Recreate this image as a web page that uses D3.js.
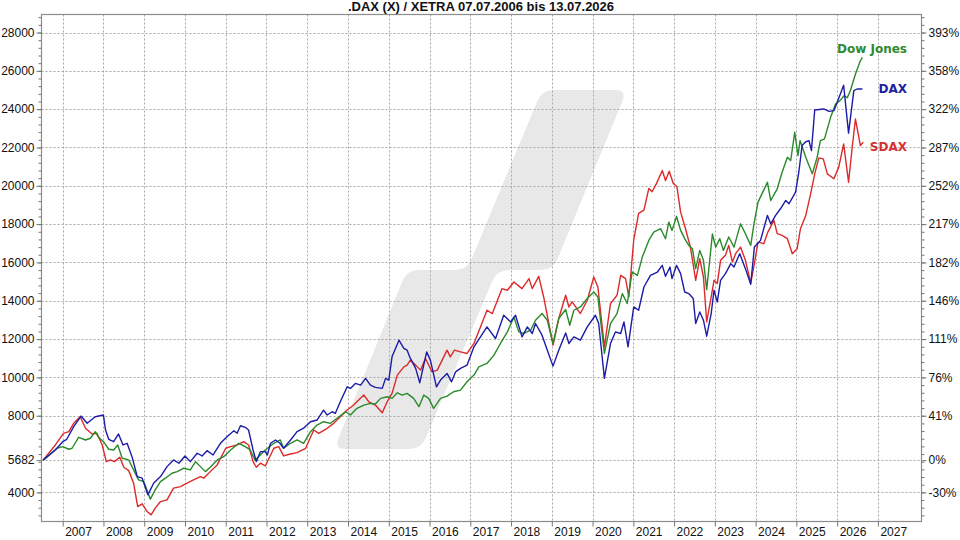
<!DOCTYPE html>
<html><head><meta charset="utf-8">
<script src="https://cdn.jsdelivr.net/npm/d3@7"></script>
<style>
html,body{margin:0;padding:0;background:#fff;}
svg{display:block;}
</style></head>
<body>
<svg id="chart" width="960" height="540"></svg>
<script>
// ---------------- DATA (decimal years / index points) ----------------
const titleText = ".DAX (X) / XETRA 07.07.2006 bis 13.07.2026";
const years = [2007,2008,2009,2010,2011,2012,2013,2014,2015,2016,2017,2018,2019,2020,2021,2022,2023,2024,2025,2026,2027];
const leftTicks = [4000,5682,8000,10000,12000,14000,16000,18000,20000,22000,24000,26000,28000];
const rightLabels = ["-30%","0%","41%","76%","111%","146%","182%","217%","252%","287%","322%","358%","393%"];
const seriesNames = ["Dow Jones","DAX","SDAX"];

const daxDates = [2006.52,2006.82,2007.00,2007.10,2007.27,2007.45,2007.60,2007.80,2008.00,2008.05,2008.13,2008.25,2008.37,2008.48,2008.58,2008.70,2008.83,2008.95,2009.09,2009.23,2009.40,2009.56,2009.72,2009.85,2010.00,2010.13,2010.30,2010.42,2010.54,2010.69,2010.87,2011.03,2011.20,2011.28,2011.36,2011.48,2011.56,2011.67,2011.75,2011.85,2011.97,2012.02,2012.10,2012.22,2012.33,2012.42,2012.59,2012.75,2012.91,
 2013.08,2013.24,2013.40,2013.49,2013.61,2013.69,2013.81,2013.98,2014.06,2014.18,2014.31,2014.43,2014.55,2014.67,2014.84,2014.92,2015.00,2015.08,2015.25,2015.37,2015.45,2015.53,2015.66,2015.76,2015.93,2016.02,2016.17,2016.27,2016.43,2016.54,2016.64,2016.76,2016.92,2017.09,2017.25,
 2017.41,2017.62,2017.82,2017.99,2018.11,2018.27,2018.40,2018.52,2018.60,2018.76,2018.89,2019.03,2019.17,2019.34,2019.42,2019.54,2019.70,2019.87,2020.07,2020.15,2020.29,2020.44,2020.56,2020.69,2020.77,2020.87,2021.01,2021.13,2021.26,2021.42,2021.59,2021.71,2021.79,2021.90,2021.95,2022.06,2022.16,2022.26,2022.36,2022.47,2022.53,2022.63,2022.72,2022.80,2022.91,2022.98,2023.06,2023.14,2023.26,2023.39,2023.47,2023.61,2023.75,2023.88,2023.97,2024.12,2024.29,2024.37,2024.49,2024.61,2024.74,2024.82,2024.98,2025.06,2025.14,2025.23,2025.31,2025.37,2025.45,2025.67,2025.80,2025.92,2026.00,2026.16,2026.28,2026.41,2026.49,2026.62];
const daxValues = [5682,6214,6646,6771,7427,7984,7604,7948,8036,7255,6771,6646,7047,6474,6562,5865,4823,4740,3870,4479,4823,5344,5693,5521,5901,5604,6042,5901,6177,5953,6562,6906,7219,7083,7479,7396,7255,6214,5604,6125,6125,5953,6562,6734,6562,6302,6734,7167,7350,
 7688,7776,8297,8036,8208,8125,8729,9510,9427,9688,9599,9948,9599,9479,9427,9948,9859,11073,11943,11510,11422,10990,10469,9719,11333,10901,9510,9859,10208,9771,10292,10469,10641,11594,12115,
 12635,12031,13245,12896,13245,12115,12635,12292,12812,12203,11422,10589,11422,12323,11771,12115,11943,12635,13245,12812,9948,11771,12375,12292,12896,11594,13677,13505,14719,15328,15500,15849,15276,15760,15156,15849,15417,14458,14375,14115,12812,13417,12984,12151,13333,14547,13938,15068,15417,15938,15760,16458,15677,14859,16802,17151,18453,18016,18453,18802,19234,19062,19667,20708,22100,22300,22359,21838,23958,24010,23885,23922,24349,25250,22750,24964,25052,25052];

const dowDates = [2006.52,2006.86,2007.00,2007.15,2007.23,2007.39,2007.56,2007.68,2007.80,2007.88,2008.00,2008.13,2008.25,2008.35,2008.46,2008.62,2008.74,2008.86,2008.99,2009.15,2009.27,2009.40,2009.52,2009.68,2009.81,2009.97,2010.13,2010.26,2010.38,2010.50,2010.62,2010.79,2010.95,2011.12,2011.32,2011.48,2011.60,2011.72,2011.85,2011.97,2012.18,2012.34,2012.42,2012.59,2012.75,2012.91,
 2013.08,2013.24,2013.40,2013.57,2013.73,2013.94,2014.06,2014.22,2014.39,2014.55,2014.67,2014.80,2014.96,2015.08,2015.21,2015.33,2015.45,2015.61,2015.74,2015.86,2015.98,2016.10,2016.27,2016.43,2016.59,2016.76,2016.92,2017.09,2017.21,
 2017.41,2017.58,2017.74,2017.91,2018.07,2018.19,2018.31,2018.48,2018.60,2018.76,2018.89,2019.03,2019.17,2019.34,2019.44,2019.54,2019.70,2019.87,2020.03,2020.13,2020.29,2020.44,2020.60,2020.73,2020.85,2020.97,2021.10,2021.22,2021.38,2021.50,2021.67,2021.79,2021.87,2021.95,2022.06,2022.16,2022.26,2022.36,2022.45,2022.53,2022.63,2022.72,2022.80,2022.94,2023.02,2023.12,2023.21,2023.34,2023.47,2023.63,2023.75,2023.88,2023.96,2024.06,2024.29,2024.37,2024.53,2024.65,2024.78,2024.86,2024.96,2025.04,2025.09,2025.23,2025.39,2025.51,2025.59,2025.69,2025.84,2025.96,2026.07,2026.17,2026.25,2026.33,2026.45,2026.57,2026.62];
const dowValues = [5682,6302,6385,6250,6302,6875,6734,6823,7167,6875,6646,6250,6214,6474,5781,5693,5172,4651,4563,3646,4130,4563,4740,5000,5083,5260,5172,5604,5344,5083,5312,5693,5865,6214,6562,6385,6214,5693,5953,6214,6562,6734,6302,6562,6734,6562,
 7167,7516,7688,7604,7865,8208,8036,8385,8557,8646,8609,8906,8990,8906,9198,9078,9167,8906,8469,9078,8906,8385,8906,9026,9250,9338,9771,10120,10552,
 10729,11161,11771,12375,13156,12375,12292,12464,12984,13333,12984,11771,13073,13542,12724,13505,13677,14115,14458,14198,11250,12812,13333,14375,13854,15500,15328,16281,17151,17583,17760,17240,18104,17672,18401,17672,17240,16891,16719,15677,16630,16110,14583,17484,16802,17240,16630,17328,16802,18016,17500,16891,18016,19146,20188,19234,19844,20708,21490,21318,22792,21578,22359,21490,20625,21490,22359,22448,23573,24271,24443,24700,24600,25000,25833,26526,26700];

const sdaxDates = [2006.52,2006.82,2007.02,2007.15,2007.27,2007.43,2007.56,2007.72,2007.84,2007.97,2008.07,2008.17,2008.27,2008.40,2008.50,2008.62,2008.74,2008.84,2008.95,2009.07,2009.17,2009.27,2009.40,2009.56,2009.72,2009.89,2010.05,2010.21,2010.38,2010.46,2010.62,2010.79,2011.00,2011.12,2011.28,2011.44,2011.56,2011.67,2011.75,2011.85,2011.97,2012.18,2012.30,2012.42,2012.59,2012.75,2012.96,
 2013.16,2013.28,2013.49,2013.65,2013.81,2013.98,2014.14,2014.26,2014.39,2014.51,2014.67,2014.84,2014.96,2015.08,2015.21,2015.37,2015.45,2015.53,2015.66,2015.78,2015.90,2016.06,2016.19,2016.31,2016.43,2016.51,2016.61,2016.76,2016.92,2017.09,2017.25,
 2017.41,2017.54,2017.78,2017.91,2018.07,2018.27,2018.44,2018.52,2018.68,2018.80,2019.03,2019.17,2019.34,2019.42,2019.50,2019.70,2019.87,2020.03,2020.13,2020.29,2020.44,2020.60,2020.69,2020.81,2020.89,2021.01,2021.13,2021.26,2021.38,2021.46,2021.57,2021.71,2021.79,2021.88,2021.98,2022.07,2022.16,2022.28,2022.40,2022.53,2022.63,2022.72,2022.80,2022.91,2022.98,2023.06,2023.14,2023.26,2023.34,2023.43,2023.51,2023.63,2023.75,2023.88,2023.97,2024.06,2024.20,2024.30,2024.45,2024.53,2024.65,2024.78,2024.90,2025.02,2025.10,2025.23,2025.35,2025.45,2025.55,2025.66,2025.76,2025.92,2026.04,2026.16,2026.28,2026.37,2026.45,2026.57,2026.64];
const sdaxValues = [5682,6474,7083,7167,7604,7948,7344,7047,7083,6474,5604,5693,5604,5833,5312,5135,4479,3260,3401,3000,2828,3177,3521,3609,4219,4302,4479,4651,4823,4740,5083,5432,6302,6385,6474,6646,6474,5604,5312,5521,5380,6302,6385,5901,6005,6073,6302,
 7255,7083,7344,7604,7948,8297,8557,8818,9078,8729,8557,8156,8729,9167,10120,10552,10641,10901,10641,10380,10990,10292,10380,10901,11422,11073,11422,11333,11250,11771,12635,
 13505,13333,14635,14547,14979,14635,15156,14635,15276,14198,11682,13073,14286,13677,13938,13333,14026,15240,14719,11594,13854,14286,15328,15156,14198,17172,18563,18734,19865,19688,20125,20797,20276,20760,20125,19948,18625,17760,16802,15068,16198,15240,12896,14198,15068,14896,16110,16370,16891,16021,16458,16802,16110,14927,15938,17062,16979,17583,18193,17500,17411,17240,16458,16719,17760,18453,19583,20625,21458,21406,20625,20365,20974,22188,20188,22010,23484,22099,22271];

// ---------------- LAYOUT ----------------
const svg = d3.select("#chart");
const P = {l: 41.5, r: 921.5, t: 14.5, b: 521.5};
const x = d3.scaleLinear().domain([2006.48, 2028.07]).range([P.l, P.r]);
const y = d3.scaleLinear().domain([2480, 28940]).range([P.b, P.t]);
const FONT = "'Liberation Sans', Arial, sans-serif";

// background watermark (decorative logo)
function roundedPoly(pts, r) {
  const n = pts.length; let d = "";
  for (let i = 0; i < n; i++) {
    const p0 = pts[(i - 1 + n) % n], p1 = pts[i], p2 = pts[(i + 1) % n];
    const v1 = [p0[0]-p1[0], p0[1]-p1[1]], v2 = [p2[0]-p1[0], p2[1]-p1[1]];
    const l1 = Math.hypot(...v1), l2 = Math.hypot(...v2);
    const rr = Math.min(r, l1/2, l2/2);
    const a = [p1[0]+v1[0]/l1*rr, p1[1]+v1[1]/l1*rr];
    const b = [p1[0]+v2[0]/l2*rr, p1[1]+v2[1]/l2*rr];
    d += (i === 0 ? "M" : "L") + a[0] + "," + a[1] + "Q" + p1[0] + "," + p1[1] + " " + b[0] + "," + b[1];
  }
  return d + "Z";
}
const wm = [[542,90],[627,90],[553,270],[497,270],[421,449],[334,449],[407,270],[467,270]];
svg.append("path").attr("d", roundedPoly(wm, 12)).attr("fill", "#e8e8e8");

// grid
const grid = svg.append("g").attr("stroke", "#a8a8a8").attr("stroke-width", 1).attr("stroke-dasharray", "2,2");
grid.selectAll("line.v").data(years).join("line")
  .attr("x1", d => Math.round(x(d)) + 0.5).attr("x2", d => Math.round(x(d)) + 0.5)
  .attr("y1", P.t).attr("y2", P.b);
grid.selectAll("line.h").data(leftTicks).join("line")
  .attr("x1", P.l).attr("x2", P.r)
  .attr("y1", d => Math.round(y(d)) + 0.5).attr("y2", d => Math.round(y(d)) + 0.5);

// lines
const line = d3.line().x(d => x(d[0])).y(d => y(d[1]));
const series = [
  {name: seriesNames[0], dates: dowDates, values: dowValues, color: "#2a8a2a", label: "#2f8a2f", dy: -8},
  {name: seriesNames[1], dates: daxDates, values: daxValues, color: "#1c1ca8", label: "#2020a0", dy: 1},
  {name: seriesNames[2], dates: sdaxDates, values: sdaxValues, color: "#dc2a2a", label: "#d63030", dy: 5}
];
const drawOrder = [series[2], series[0], series[1]];
svg.append("g").selectAll("path").data(drawOrder).join("path")
  .attr("d", s => line(s.dates.map((d, i) => [d, s.values[i]])))
  .attr("fill", "none").attr("stroke", s => s.color).attr("stroke-width", 1.4)
  .attr("stroke-linejoin", "round");

// frame
svg.append("rect").attr("x", P.l).attr("y", P.t).attr("width", P.r - P.l).attr("height", P.b - P.t)
  .attr("fill", "none").attr("stroke", "#8c8c8c").attr("stroke-width", 1.2);

// axes
const minor = d3.range(2800, 28900, 400);
function styleAxis(g) {
  g.select(".domain").remove();
  g.selectAll(".tick line").attr("stroke", "#777");
  g.selectAll("text").attr("fill", "#111").style("font-family", FONT).style("font-size", "12px");
}
svg.append("g").attr("transform", `translate(${P.l},0)`)
  .call(d3.axisLeft(y).tickValues(minor).tickSize(3).tickFormat(""))
  .call(styleAxis);
svg.append("g").attr("transform", `translate(${P.r},0)`)
  .call(d3.axisRight(y).tickValues(minor).tickSize(3).tickFormat(""))
  .call(styleAxis);
svg.append("g").attr("transform", `translate(${P.l},0)`)
  .call(d3.axisLeft(y).tickValues(leftTicks).tickSize(5).tickPadding(2).tickFormat(d => String(d)))
  .call(styleAxis);
svg.append("g").attr("transform", `translate(${P.r},0)`)
  .call(d3.axisRight(y).tickValues(leftTicks).tickSize(5).tickPadding(2).tickFormat((d, i) => rightLabels[i]))
  .call(styleAxis);
const xa = svg.append("g").attr("transform", `translate(0,${P.b})`)
  .call(d3.axisBottom(x).tickValues(years).tickSize(5).tickFormat(d => String(d)))
  .call(styleAxis);
xa.selectAll("text").attr("text-anchor", "start").attr("x", 2).attr("y", 6).attr("dy", "0.71em");

// series labels
svg.append("g").selectAll("text").data(series).join("text")
  .attr("x", 907).attr("y", s => y(s.values[s.values.length - 1]) + s.dy)
  .attr("text-anchor", "end").attr("dominant-baseline", "middle")
  .style("font-family", "'DejaVu Sans', Verdana, sans-serif").style("font-size", "12px").style("font-weight", "bold")
  .attr("fill", s => s.label).text(s => s.name);

// title
svg.append("text").attr("x", 481).attr("y", 11).attr("text-anchor", "middle")
  .style("font-family", "'Liberation Sans Narrow', 'Arial Narrow', " + FONT)
  .style("font-size", "13px").style("font-weight", "bold").attr("fill", "#111").text(titleText);
</script>
</body></html>
